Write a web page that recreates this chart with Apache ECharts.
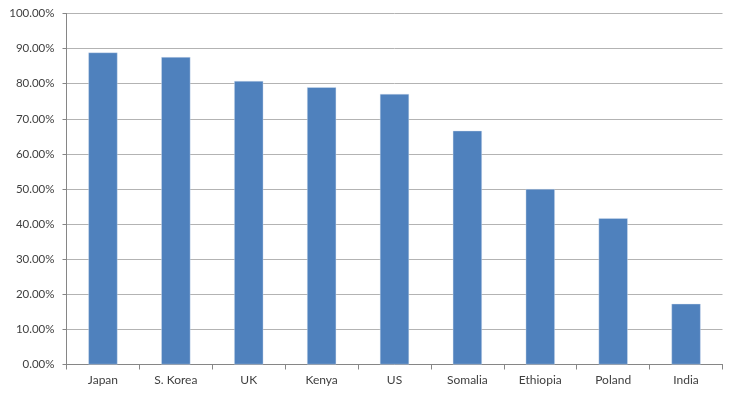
<!DOCTYPE html>
<html>
<head>
<meta charset="utf-8">
<script src="https://cdn.jsdelivr.net/npm/echarts@6/dist/echarts.min.js"></script>
<style>html,body{margin:0;padding:0;background:#fff}#c{width:736px;height:395px}</style>
</head>
<body>
<div id="c"></div>
<script>
var categories = ['Japan', 'S. Korea', 'UK', 'Kenya', 'US', 'Somalia', 'Ethiopia', 'Poland', 'India'];
var values = [0.889, 0.876, 0.808, 0.790, 0.771, 0.666, 0.500, 0.417, 0.173];
var yMin = 0, yMax = 1, yStep = 0.1;

var chart = echarts.init(document.getElementById('c'), null, {renderer: 'canvas'});
chart.setOption({
  animation: false,
  grid: {left: 66.5, right: 13.5, top: 13.5, bottom: 30.5, containLabel: false},
  xAxis: {
    type: 'category',
    data: categories,
    boundaryGap: true,
    axisLine: {lineStyle: {color: '#868686', width: 1}},
    axisTick: {show: true, length: 5, alignWithLabel: false, lineStyle: {color: '#868686'}},
    axisLabel: {color: '#404040', fontFamily: 'Lato, "Open Sans", sans-serif', fontSize: 12, margin: 10},
    splitLine: {show: false}
  },
  yAxis: {
    type: 'value',
    min: yMin, max: yMax, interval: yStep,
    axisLine: {show: true, lineStyle: {color: '#868686', width: 1}},
    axisTick: {show: true, length: 4, lineStyle: {color: '#868686'}},
    axisLabel: {
      color: '#404040', fontFamily: 'Lato, "Open Sans", sans-serif', fontSize: 11.5, margin: 12,
      formatter: function (v) { return (v * 100).toFixed(2) + '%'; }
    },
    splitLine: {show: true, lineStyle: {color: '#b3b3b3', width: 1}}
  },
  series: [{
    type: 'bar',
    data: values,
    barWidth: '40%',
    itemStyle: {color: '#4f81bd', borderColor: 'rgba(220,230,242,0.8)', borderWidth: 0.5}
  }]
});
</script>
</body>
</html>
